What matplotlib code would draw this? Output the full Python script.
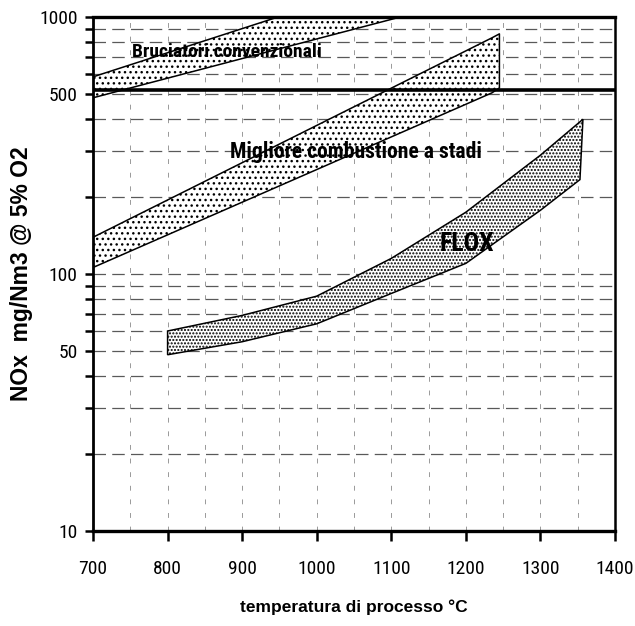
import numpy as np
import matplotlib
matplotlib.use("Agg")
import matplotlib.pyplot as plt
from matplotlib.ticker import FixedLocator, FixedFormatter, NullFormatter, MultipleLocator

plt.rcParams["font.family"] = ["Liberation Sans", "DejaVu Sans"]
plt.rcParams["hatch.linewidth"] = 1.0
plt.rcParams["hatch.color"] = "black"

NARROW = ["Roboto Condensed", "Liberation Sans", "DejaVu Sans"]

# Conventional burners band (°C, mg/Nm3)
conv_temp = [700, 948, 1112]
conv_upper = [585, 1000, 1000]
conv_lower = [485, 750, 1000]

# Best staged combustion band
staged_temp = [700, 1235, 1245]
staged_upper = [139, 830, 860]
staged_lower = [106, 507, 530]

# FLOX band
flox_upper_temp = [800, 900, 1000, 1100, 1200, 1300, 1357]
flox_upper = [60, 69, 82, 115, 174, 290, 400]
flox_lower_temp = [800, 900, 1000, 1100, 1200, 1300, 1353]
flox_lower = [48.5, 54.5, 64, 84, 110, 177, 233]

# Emission limit line
limit_value = 520

y_major = [10, 50, 100, 500, 1000]
y_minor = [20, 30, 40, 60, 70, 80, 90, 200, 300, 400, 600, 700, 800, 900]
x_ticks = [700, 800, 900, 1000, 1100, 1200, 1300, 1400]

fig = plt.figure(figsize=(6.35, 6.26), dpi=100)
ax = fig.add_axes([0.1465, 0.1518, 0.822, 0.821])
ax.set_yscale("log")
ax.set_xlim(700, 1400)
ax.set_ylim(10, 1000)

# grid
ax.yaxis.set_major_locator(FixedLocator(y_major))
ax.yaxis.set_major_formatter(FixedFormatter([str(v) for v in y_major]))
ax.yaxis.set_minor_locator(FixedLocator(y_minor))
ax.yaxis.set_minor_formatter(NullFormatter())
ax.xaxis.set_major_locator(FixedLocator(x_ticks))
ax.xaxis.set_major_formatter(FixedFormatter([str(v) for v in x_ticks]))
ax.xaxis.set_minor_locator(MultipleLocator(50))

ax.grid(True, axis="y", which="both", color="0.35", lw=0.9, dashes=(10, 5), zorder=1)
ax.grid(True, axis="x", which="both", color="0.6", lw=0.7, dashes=(5, 9), zorder=1)
ax.set_axisbelow(True)

band_style = dict(facecolor="white", edgecolor="black", lw=1.1, zorder=3)
ax.fill_between(conv_temp, conv_lower, conv_upper, hatch="...", **band_style)
ax.fill_between(staged_temp, staged_lower, staged_upper, hatch="...", **band_style)
flox_x = np.concatenate([flox_upper_temp, flox_lower_temp[::-1]])
flox_y = np.concatenate([flox_upper, flox_lower[::-1]])
ax.fill(flox_x, flox_y, hatch=".....", **band_style)

ax.axhline(limit_value, color="black", lw=2.6, zorder=4)

ax.text(880, 701, "Bruciatori convenzionali", family=NARROW, weight="bold",
        fontsize=14, ha="center", va="baseline", zorder=5)
ax.text(1052, 284, "Migliore combustione a stadi", family=NARROW, weight="bold",
        fontsize=15.6, ha="center", va="baseline", zorder=5)
ax.text(1201, 123, "FLOX", family=NARROW, weight="bold",
        fontsize=18.5, ha="center", va="baseline", zorder=5)

for side, w in (("left", 2.0), ("bottom", 2.4), ("top", 2.4), ("right", 1.8)):
    ax.spines[side].set_linewidth(w)
    ax.spines[side].set_zorder(6)

ax.tick_params(axis="y", which="both", direction="out", length=6, width=1.8,
               pad=5, labelsize=14)
ax.tick_params(axis="x", which="major", direction="out", length=7, width=1.8,
               pad=14, labelsize=14)
ax.tick_params(axis="x", which="minor", length=0)
for lab in ax.get_xticklabels() + ax.get_yticklabels():
    lab.set_family(NARROW)

ax.set_ylabel("NOx  mg/Nm3 @ 5% O2", fontsize=16.5, weight="bold")
ax.yaxis.label.set_verticalalignment("center")
ax.yaxis.set_label_coords(-0.137, 0.5)
ax.set_xlabel("temperatura di processo °C", fontsize=12.5, weight="bold")
ax.xaxis.label.set_verticalalignment("center")
ax.xaxis.set_label_coords(0.5, -0.148)

fig.savefig("out.png", dpi=100)
